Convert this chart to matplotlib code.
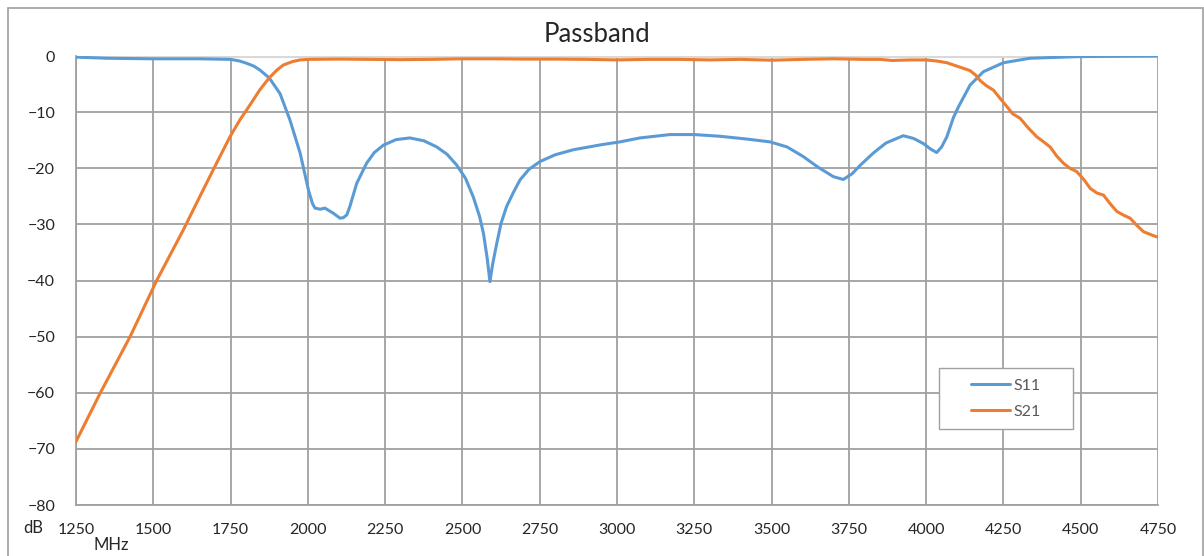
import matplotlib
matplotlib.use("Agg")
import matplotlib.pyplot as plt
from matplotlib.patches import Rectangle

plt.rcParams['font.family'] = ['Lato', 'DejaVu Sans']

# frequency (MHz) and S-parameters (dB)
s11_f = [1250, 1350, 1500, 1650, 1750, 1780, 1802, 1825, 1845, 1875, 1910, 1942, 1975,
         2002, 2015, 2023, 2040, 2055, 2082, 2104, 2115, 2126, 2136, 2158, 2190, 2215,
         2244, 2285, 2330, 2375, 2417, 2450, 2481, 2510, 2535, 2555, 2568, 2580, 2589,
         2598, 2611, 2625, 2643, 2665, 2686, 2715, 2751, 2800, 2859, 2950, 3010, 3074,
         3171, 3250, 3333, 3420, 3495, 3550, 3602, 3650, 3700, 3732, 3760, 3790, 3829,
         3870, 3926, 3960, 3991, 4015, 4034, 4050, 4067, 4088, 4105, 4142, 4185, 4250,
         4336, 4498, 4750]
s11_db = [-0.2, -0.4, -0.5, -0.5, -0.6, -0.9, -1.3, -1.8, -2.5, -3.9, -6.7, -11.4, -17.3,
          -23.9, -26.3, -27.1, -27.3, -27.1, -28.0, -28.9, -28.8, -28.3, -26.8, -22.7, -19.1, -17.2,
          -15.9, -14.9, -14.6, -15.1, -16.2, -17.5, -19.4, -21.8, -25.1, -28.5, -31.6, -36.0, -40.2,
          -37.0, -33.4, -29.8, -26.8, -24.3, -22.1, -20.2, -18.8, -17.6, -16.7, -15.8, -15.3, -14.6,
          -14.0, -14.0, -14.3, -14.8, -15.3, -16.2, -17.9, -19.8, -21.5, -22.0, -21.0, -19.3, -17.3,
          -15.5, -14.2, -14.7, -15.6, -16.6, -17.2, -16.2, -14.4, -11.0, -9.0, -5.2, -2.8, -1.2,
          -0.4, -0.1, 0.0]

s21_f = [1250, 1328, 1425, 1511, 1597, 1651, 1700, 1748, 1780, 1813, 1845, 1875, 1900,
         1921, 1950, 1975, 2002, 2100, 2200, 2300, 2400, 2500, 2600, 2700, 2800, 2900,
         3000, 3100, 3200, 3300, 3400, 3500, 3600, 3700, 3800, 3851, 3890, 3950, 4000,
         4035, 4067, 4110, 4142, 4160, 4175, 4195, 4218, 4240, 4261, 4280, 4304, 4330,
         4358, 4380, 4401, 4422, 4444, 4465, 4487, 4510, 4531, 4552, 4574, 4595, 4617,
         4640, 4660, 4680, 4703, 4730, 4750]
s21_db = [-68.7, -60.1, -50.0, -40.0, -31.0, -25.0, -19.6, -14.4, -11.4, -8.7, -6.0, -3.9, -2.5,
          -1.6, -1.0, -0.7, -0.6, -0.55, -0.6, -0.65, -0.6, -0.5, -0.5, -0.55, -0.55, -0.6,
          -0.7, -0.6, -0.6, -0.7, -0.6, -0.75, -0.6, -0.5, -0.6, -0.6, -0.8, -0.7, -0.7,
          -0.9, -1.2, -2.0, -2.6, -3.4, -4.4, -5.3, -6.1, -7.6, -9.0, -10.3, -11.1, -12.8,
          -14.4, -15.3, -16.2, -17.8, -19.1, -20.0, -20.6, -22.0, -23.6, -24.4, -24.8, -26.3, -27.7,
          -28.4, -28.9, -30.1, -31.3, -31.9, -32.3]

xticks = [1250, 1500, 1750, 2000, 2250, 2500, 2750, 3000, 3250, 3500, 3750, 4000, 4250, 4500, 4750]
yticks = [0, -10, -20, -30, -40, -50, -60, -70, -80]

W, H = 1204, 556
fig = plt.figure(figsize=(W / 100, H / 100), dpi=100)

# chart area border
fig.patches.append(Rectangle((8 / W, -0.02), 1195 / W, 1 - 8 / H + 0.02,
                             transform=fig.transFigure, fill=False, edgecolor='#A6A6A6',
                             linewidth=1.3, zorder=1))

ax = fig.add_axes([76 / W, 1 - 505 / H, 1082 / W, 449 / H])

ax.plot(s11_f, s11_db, color='#5B9BD5', linewidth=2.2, label='S11', zorder=3,
        solid_joinstyle='round', solid_capstyle='round')
ax.plot(s21_f, s21_db, color='#ED7D31', linewidth=2.2, label='S21', zorder=3,
        solid_joinstyle='round', solid_capstyle='round')

ax.set_xlim(1250, 4750)
ax.set_ylim(-80, 0)
ax.set_xticks(xticks)
ax.set_yticks(yticks)
ax.grid(True, color='#A0A0A0', linewidth=1.3, zorder=1)
ax.axhline(0, color='#D9D9D9', linewidth=2.2, zorder=2)
for s in ['top', 'right']:
    ax.spines[s].set_visible(False)
for s in ['left', 'bottom']:
    ax.spines[s].set_color('#A0A0A0')
    ax.spines[s].set_linewidth(1.3)
ax.tick_params(length=0, labelsize=11.5, labelcolor='#262626')
ax.tick_params(axis='x', pad=13)
ax.tick_params(axis='y', pad=15)

fig.text(597 / W, 1 - 35 / H, 'Passband', fontsize=18.5, color='#262626',
         ha='center', va='center')

fig.text(33 / W, 1 - 528 / H, 'dB', fontsize=12, color='#262626', ha='center', va='center')
fig.text(111 / W, 1 - 545 / H, 'MHz', fontsize=12, color='#262626', ha='center', va='center')

# legend box
bx0, bx1 = (939 - 76) / 1082, (1073 - 76) / 1082
by0, by1 = (505 - 429) / 449, (505 - 368) / 449
ax.add_patch(Rectangle((bx0, by0), bx1 - bx0, by1 - by0, transform=ax.transAxes,
                       facecolor='white', edgecolor='#A0A0A0', linewidth=1.0, zorder=4))
leg = ax.legend(loc='center', bbox_to_anchor=((bx0 + bx1) / 2, (by0 + by1) / 2),
                frameon=False, fontsize=11.5, handlelength=2.45, labelspacing=0.75,
                handletextpad=0.25, borderaxespad=0)
leg.set_zorder(5)
for t in leg.get_texts():
    t.set_color('#595959')

fig.savefig('out.png', dpi=100)
